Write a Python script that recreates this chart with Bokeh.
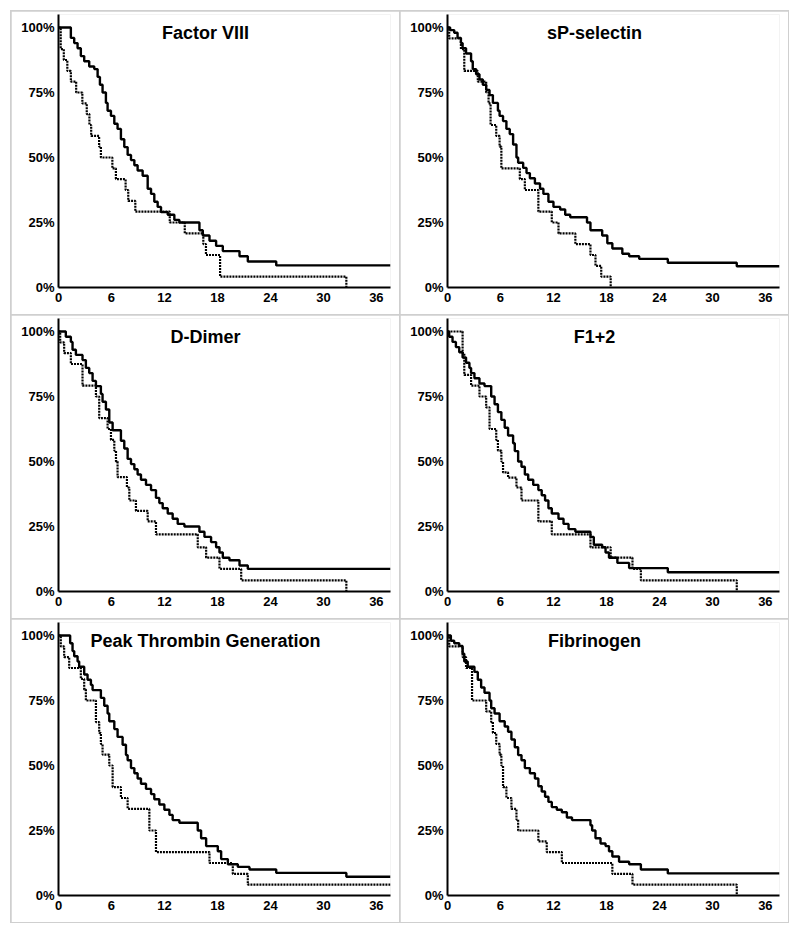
from bokeh.plotting import figure
from bokeh.layouts import gridplot, column, row
from bokeh.models import FixedTicker, NumeralTickFormatter, Label, Spacer
from bokeh.embed import file_html
from bokeh.resources import INLINE

X_TICKS = [0, 6, 12, 18, 24, 30, 36]
Y_TICKS = [0, 0.25, 0.5, 0.75, 1.0]
X_END = 37.6

# ---------------- Factor VIII ----------------
fviii_solid_t = [0, 1.40, 1.78, 2.16, 2.53, 2.91, 3.48, 4.05, 4.43, 4.69, 4.99, 5.37, 5.56, 5.94, 6.32,
                 6.69, 7.07, 7.45, 7.83, 8.21, 8.59, 8.96, 9.53, 10.10, 10.48, 10.85, 11.23, 11.61, 12.37,
                 13.12, 13.69, 15.96, 16.34, 17.10, 17.85, 18.61, 20.50, 21.44, 24.66, 37.6]
fviii_solid_s = [1.0, 0.96, 0.94, 0.92, 0.89, 0.87, 0.85, 0.84, 0.81, 0.78, 0.75, 0.71, 0.68, 0.66, 0.63,
                 0.61, 0.57, 0.54, 0.51, 0.49, 0.47, 0.45, 0.43, 0.38, 0.36, 0.33, 0.31, 0.29, 0.28,
                 0.26, 0.25, 0.22, 0.20, 0.18, 0.16, 0.14, 0.12, 0.10, 0.085, 0.085]
fviii_dot_t = [0, 0.25, 0.6, 1.0, 1.4, 2.0, 2.7, 3.2, 3.5, 3.7, 4.6, 4.8, 6.1, 6.5, 7.6, 7.9, 8.7,
               12.6, 14.3, 16.4, 16.7, 18.3, 32.6]
fviii_dot_s = [1.0, 0.917, 0.875, 0.833, 0.792, 0.75, 0.708, 0.667, 0.625, 0.583, 0.542, 0.50, 0.458,
               0.417, 0.375, 0.333, 0.292, 0.25, 0.208, 0.167, 0.125, 0.042, 0.0]

# ---------------- sP-selectin ----------------
sps_solid_t = [0, 0.30, 0.76, 1.14, 1.52, 1.71, 2.10, 2.67, 2.86, 3.24, 3.62, 4.0, 4.38, 4.76, 5.14,
               5.71, 5.90, 6.29, 6.67, 7.05, 7.43, 7.81, 8.0, 8.57, 8.95, 9.33, 9.90, 10.48, 10.86,
               11.43, 12.0, 12.76, 13.33, 13.9, 15.8, 16.19, 17.52, 18.1, 18.67, 19.8, 20.57, 21.71,
               24.95, 32.76, 37.6]
sps_solid_s = [1.0, 0.99, 0.98, 0.96, 0.94, 0.92, 0.90, 0.87, 0.84, 0.82, 0.80, 0.78, 0.76, 0.74, 0.71,
               0.68, 0.66, 0.64, 0.61, 0.59, 0.55, 0.50, 0.48, 0.46, 0.44, 0.42, 0.40, 0.38, 0.36,
               0.33, 0.31, 0.30, 0.28, 0.27, 0.25, 0.22, 0.20, 0.17, 0.15, 0.13, 0.12, 0.11,
               0.095, 0.082, 0.082]
sps_dot_t = [0, 0.19, 1.52, 1.90, 3.43, 4.38, 4.65, 4.88, 5.52, 5.90, 6.10, 8.19, 8.76, 10.29, 11.81,
             12.57, 14.48, 16.19, 16.76, 17.41, 18.48]
sps_dot_s = [1.0, 0.958, 0.917, 0.833, 0.792, 0.75, 0.708, 0.625, 0.583, 0.542, 0.458, 0.417, 0.375,
             0.292, 0.25, 0.208, 0.167, 0.125, 0.083, 0.042, 0.0]

# ---------------- D-Dimer ----------------
dd_solid_t = [0, 0.83, 1.40, 1.59, 1.97, 2.72, 3.10, 3.48, 3.86, 4.24, 4.80, 4.99, 5.37, 5.75, 6.13,
              7.07, 7.45, 7.83, 8.21, 8.59, 8.96, 9.34, 9.91, 10.48, 11.04, 11.42, 11.80, 12.37, 12.93,
              13.50, 14.26, 15.96, 16.53, 17.28, 17.85, 18.23, 18.61, 19.36, 20.50, 21.44, 37.6]
dd_solid_s = [1.0, 0.98, 0.96, 0.93, 0.91, 0.89, 0.86, 0.84, 0.81, 0.79, 0.76, 0.73, 0.70, 0.65, 0.62,
              0.58, 0.55, 0.51, 0.49, 0.47, 0.45, 0.43, 0.41, 0.39, 0.36, 0.34, 0.32, 0.30, 0.28,
              0.26, 0.25, 0.23, 0.21, 0.19, 0.17, 0.15, 0.13, 0.12, 0.10, 0.087, 0.087]
dd_dot_t = [0, 0.19, 0.64, 1.40, 2.72, 4.24, 4.61, 5.56, 5.94, 6.32, 6.51, 6.69, 7.75, 8.02, 8.77,
            10.10, 11.04, 15.77, 16.72, 18.23, 20.69, 32.6]
dd_dot_s = [1.0, 0.958, 0.917, 0.875, 0.792, 0.75, 0.667, 0.625, 0.583, 0.542, 0.50, 0.44, 0.40, 0.35,
            0.31, 0.27, 0.22, 0.17, 0.13, 0.087, 0.043, 0.0]

# ---------------- F1+2 ----------------
f12_solid_t = [0, 0.19, 0.57, 0.95, 1.33, 1.71, 2.10, 2.48, 2.67, 3.05, 3.62, 4.19, 4.95, 5.33, 5.71,
               6.10, 6.48, 6.86, 7.43, 7.62, 8.0, 8.38, 8.76, 9.14, 9.71, 10.29, 10.67, 11.05, 11.43,
               11.81, 12.57, 13.14, 13.71, 14.48, 16.19, 16.57, 17.52, 17.9, 18.29, 19.24, 20.57,
               24.95, 37.6]
f12_solid_s = [1.0, 0.98, 0.96, 0.94, 0.92, 0.90, 0.88, 0.86, 0.84, 0.82, 0.80, 0.79, 0.75, 0.72, 0.69,
               0.66, 0.63, 0.60, 0.57, 0.54, 0.50, 0.48, 0.45, 0.43, 0.41, 0.39, 0.37, 0.35, 0.32,
               0.30, 0.28, 0.26, 0.24, 0.23, 0.21, 0.18, 0.17, 0.15, 0.13, 0.11, 0.09,
               0.074, 0.074]
f12_dot_t = [0, 1.71, 1.90, 2.67, 3.62, 4.38, 4.76, 5.52, 5.71, 6.10, 6.29, 6.86, 7.81, 8.38, 10.29,
             11.81, 16.19, 18.48, 20.95, 21.90, 32.76]
f12_dot_s = [1.0, 0.917, 0.833, 0.792, 0.75, 0.708, 0.625, 0.583, 0.542, 0.50, 0.458, 0.438, 0.40,
             0.35, 0.27, 0.22, 0.17, 0.13, 0.087, 0.043, 0.0]

# ---------------- Peak Thrombin Generation ----------------
ptg_solid_t = [0, 1.32, 1.59, 1.78, 2.16, 2.34, 2.91, 3.29, 3.67, 3.86, 4.80, 5.18, 5.56, 5.75, 6.32,
               6.69, 7.26, 7.64, 7.83, 8.21, 8.59, 8.96, 9.34, 9.91, 10.48, 10.85, 11.42, 11.99, 12.56,
               12.93, 13.69, 15.77, 16.15, 16.72, 18.04, 18.42, 19.18, 20.31, 21.63, 24.66, 32.6, 37.6]
ptg_solid_s = [1.0, 0.97, 0.94, 0.92, 0.90, 0.88, 0.85, 0.83, 0.81, 0.79, 0.76, 0.73, 0.70, 0.67, 0.64,
               0.61, 0.58, 0.54, 0.52, 0.49, 0.47, 0.45, 0.43, 0.41, 0.39, 0.37, 0.35, 0.33, 0.31,
               0.29, 0.28, 0.25, 0.22, 0.19, 0.17, 0.14, 0.12, 0.11, 0.10, 0.087, 0.072, 0.072]
ptg_dot_t = [0, 0.26, 0.64, 1.21, 2.53, 2.91, 3.10, 4.24, 4.61, 4.80, 4.99, 5.75, 6.13, 7.07, 7.83,
             10.29, 11.04, 17.10, 19.74, 21.44, 37.6]
ptg_dot_s = [1.0, 0.958, 0.917, 0.875, 0.833, 0.792, 0.75, 0.667, 0.625, 0.583, 0.542, 0.50, 0.417,
             0.375, 0.333, 0.25, 0.167, 0.125, 0.083, 0.042, 0.042]

# ---------------- Fibrinogen ----------------
fib_solid_t = [0, 0.38, 0.76, 1.33, 1.71, 1.90, 2.29, 3.05, 3.43, 3.81, 4.19, 4.76, 4.95, 5.33, 5.90,
               6.48, 6.86, 7.24, 7.62, 8.0, 8.38, 8.76, 9.33, 9.90, 10.29, 10.67, 11.05, 11.43, 11.81,
               12.38, 12.95, 13.52, 14.10, 16.19, 16.38, 16.76, 17.33, 17.90, 18.29, 18.67, 19.43,
               20.57, 21.90, 24.95, 37.6]
fib_solid_s = [1.0, 0.98, 0.97, 0.96, 0.93, 0.90, 0.88, 0.86, 0.83, 0.80, 0.78, 0.75, 0.72, 0.70, 0.67,
               0.65, 0.63, 0.60, 0.57, 0.54, 0.52, 0.49, 0.47, 0.45, 0.42, 0.40, 0.38, 0.36, 0.34,
               0.33, 0.32, 0.30, 0.29, 0.27, 0.25, 0.22, 0.20, 0.19, 0.17, 0.15, 0.13,
               0.12, 0.10, 0.085, 0.085]
fib_dot_t = [0, 0.19, 1.71, 2.10, 2.78, 4.38, 4.95, 5.14, 5.52, 5.90, 6.10, 6.29, 6.67, 7.24, 7.81,
             8.0, 10.29, 11.24, 12.95, 18.67, 20.95, 32.76]
fib_dot_s = [1.0, 0.958, 0.917, 0.875, 0.75, 0.708, 0.667, 0.625, 0.583, 0.542, 0.50, 0.417, 0.375,
             0.333, 0.292, 0.25, 0.208, 0.167, 0.125, 0.083, 0.042, 0.0]

TITLES = ["Factor VIII", "sP-selectin", "D-Dimer", "F1+2", "Peak Thrombin Generation", "Fibrinogen"]
SERIES = [
    (fviii_solid_t, fviii_solid_s, fviii_dot_t, fviii_dot_s),
    (sps_solid_t, sps_solid_s, sps_dot_t, sps_dot_s),
    (dd_solid_t, dd_solid_s, dd_dot_t, dd_dot_s),
    (f12_solid_t, f12_solid_s, f12_dot_t, f12_dot_s),
    (ptg_solid_t, ptg_solid_s, ptg_dot_t, ptg_dot_s),
    (fib_solid_t, fib_solid_s, fib_dot_t, fib_dot_s),
]

FONT = "Liberation Sans"


def make_panel(title, ts, ss, td, sd):
    p = figure(width=388, height=303, x_range=(0, X_END), y_range=(0, 1.05),
               output_backend="svg", toolbar_location=None,
               min_border_left=47, min_border_right=9, min_border_top=3, min_border_bottom=27)
    p.background_fill_color = "white"
    p.border_fill_color = "white"
    p.outline_line_color = None
    p.grid.visible = False
    for ax in (p.xaxis[0], p.yaxis[0]):
        ax.axis_line_width = 2
        ax.axis_line_color = "black"
        ax.major_tick_out = 0
        ax.major_tick_in = 0
        ax.minor_tick_out = 0
        ax.minor_tick_in = 0
        ax.major_label_text_font = FONT
        ax.major_label_text_font_style = "bold"
        ax.major_label_text_font_size = "13px"
        ax.major_label_text_color = "black"
    p.xaxis.ticker = FixedTicker(ticks=X_TICKS)
    p.yaxis.ticker = FixedTicker(ticks=Y_TICKS)
    p.yaxis.formatter = NumeralTickFormatter(format="0%")
    p.xaxis.major_label_standoff = 5
    p.yaxis.major_label_standoff = 4
    p.step(ts, ss, mode="after", line_color="black", line_width=2.4)
    p.step(td, sd, mode="after", line_color="black", line_width=2.2, line_dash="2 1")
    p.add_layout(Label(x=16.65, y=0.98, text=title, text_align="center", text_baseline="middle",
                       text_font=FONT, text_font_style="bold", text_font_size="18px",
                       text_color="black"))
    return p


panels = [make_panel(t, *s) for t, s in zip(TITLES, SERIES)]
grid = gridplot([panels[0:2], panels[2:4], panels[4:6]], toolbar_location=None)
grid.spacing = 1
grid.styles = {"background-color": "#cfcfcf", "outline": "1px solid #cfcfcf"}

layout = column(Spacer(height=11, width=11), row(Spacer(width=11, height=11), grid), spacing=0)

open("out.html", "w").write(file_html(layout, INLINE))
